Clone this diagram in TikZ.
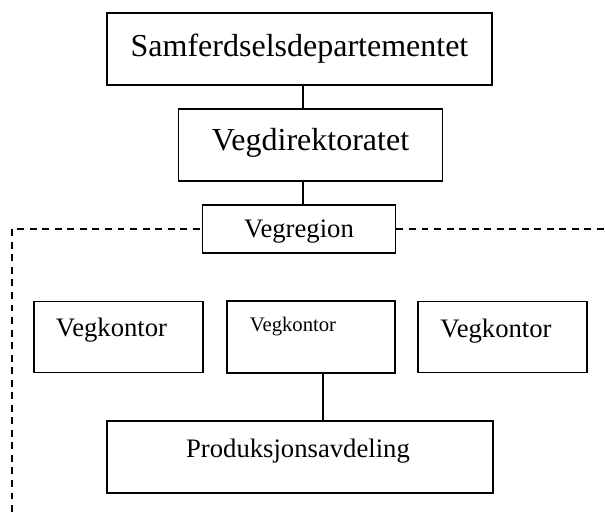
\documentclass[tikz,border=0pt]{standalone}
\usepackage{fontspec}
\setmainfont{Liberation Serif}
\begin{document}
\begin{tikzpicture}[x=0.75pt,y=-0.75pt,
  box/.style={draw,line width=1.4pt,inner sep=0pt},
  lbl/.style={inner sep=0pt},
  conn/.style={line width=1.4pt},
  dashline/.style={line width=1.4pt,dash pattern=on 5.2pt off 4.2pt}]
\useasboundingbox (0,0) rectangle (605,512);
% top chain
\node[box,minimum width=385*0.75pt,minimum height=72*0.75pt,
  label={[lbl,font=\fontsize{24}{28}\selectfont]center:Samferdselsdepartementet}] (samf) at (299.5,49) {};
\node[box,minimum width=264*0.75pt,minimum height=72*0.75pt,
  label={[lbl,font=\fontsize{24}{28}\selectfont,yshift=1.8*0.75pt]center:Vegdirektoratet}] (vdir) at (310.5,145) {};
\node[box,minimum width=193*0.75pt,minimum height=48*0.75pt,
  label={[lbl,font=\fontsize{20}{24}\selectfont,yshift=-3*0.75pt]center:Vegregion}] (vreg) at (299,229) {};
\coordinate (cx) at (303,0);
\draw[conn] (samf.south -| cx) -- (vdir.north -| cx);
\draw[conn] (vdir.south -| cx) -- (vreg.north -| cx);
% dashed region border
\coordinate (dl) at (12,512);
\coordinate (dr) at (605,0);
\draw[dashline] (dl) -- (dl |- vreg.west) -- (vreg.west);
\draw[dashline] (vreg.east) -- (vreg.east -| dr);
% road offices
\node[box,minimum width=169*0.75pt,minimum height=71*0.75pt,
  label={[lbl,font=\fontsize{20}{24}\selectfont,xshift=-7*0.75pt,yshift=7*0.75pt]center:Vegkontor}] (vk1) at (118.5,337) {};
\node[box,minimum width=168*0.75pt,minimum height=72*0.75pt,
  label={[lbl,font=\fontsize{15.5}{19}\selectfont,xshift=-18*0.75pt,yshift=10*0.75pt]center:Vegkontor}] (vk2) at (311,337) {};
\node[box,minimum width=169*0.75pt,minimum height=71*0.75pt,
  label={[lbl,font=\fontsize{20}{24}\selectfont,xshift=-6.5*0.75pt,yshift=6*0.75pt]center:Vegkontor}] (vk3) at (502.5,337) {};
\node[box,minimum width=386*0.75pt,minimum height=72*0.75pt,
  label={[lbl,font=\fontsize{20}{24}\selectfont,yshift=6*0.75pt,xshift=-2*0.75pt]center:Produksjonsavdeling}] (prod) at (300,457) {};
\coordinate (cx2) at (323,0);
\draw[conn] (vk2.south -| cx2) -- (prod.north -| cx2);
\end{tikzpicture}
\end{document}
